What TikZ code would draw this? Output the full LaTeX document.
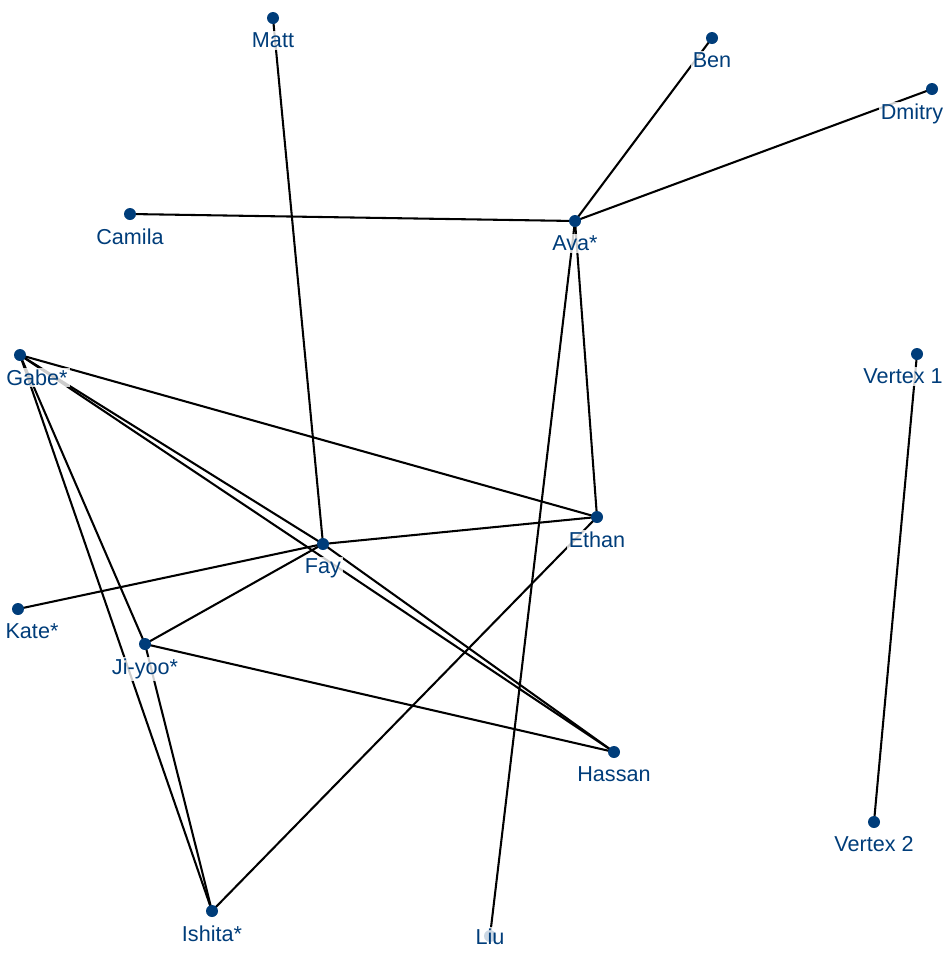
\documentclass[tikz,border=0pt]{standalone}
\usepackage{fontspec}
\setmainfont{Liberation Sans}
\usetikzlibrary{backgrounds}
\definecolor{vertex-blue}{RGB}{0,61,122}

\begin{document}
\begin{tikzpicture}[
    x=0.75pt, y=-0.75pt,
    every node/.style={font=\fontsize{16.2}{18}\selectfont},
    vtx/.style={circle, fill=vertex-blue, inner sep=0pt, minimum size=9pt},
    lbl/.style={text=vertex-blue, fill=white, fill opacity=0.8, text opacity=1,
                inner sep=1.5pt, label distance=4.5pt},
    link/.style={draw, black, line width=1.55pt},
  ]
    \useasboundingbox (0,0) rectangle (950,954);
    % vertices
    \node[vtx, label={[lbl]below:Matt}] (matt) at (273,18) {};
    \node[vtx, label={[lbl]below:Ben}] (ben) at (712,38) {};
    \node[vtx, label={[lbl, xshift=-15pt]below:Dmitry}] (dmitry) at (932,89) {};
    \node[vtx, label={[lbl]below:Camila}] (camila) at (130,214) {};
    \node[vtx, label={[lbl]below:Ava*}] (ava) at (575,221) {};
    \node[vtx, label={[lbl, xshift=12.75pt]below:Gabe*}] (gabe) at (20,355) {};
    \node[vtx, label={[lbl, xshift=-10.5pt]below:Vertex 1}] (v1) at (917,354) {};
    \node[vtx, label={[lbl]below:Ethan}] (ethan) at (597,517) {};
    \node[vtx, label={[lbl]below:Fay}] (fay) at (323,544) {};
    \node[vtx, label={[lbl, xshift=10.5pt]below:Kate*}] (kate) at (18,609) {};
    \node[vtx, label={[lbl]below:Ji-yoo*}] (jiyoo) at (145,644) {};
    \node[vtx, label={[lbl]below:Hassan}] (hassan) at (614,752) {};
    \node[vtx, label={[lbl]below:Vertex 2}] (v2) at (874,822) {};
    \node[vtx, label={[lbl]below:Ishita*}] (ishita) at (212,911) {};
    \node[vtx, label={[lbl, yshift=16.5pt]below:Liu}] (liu) at (490,936) {};
    % edges
    \begin{scope}[on background layer]
      \foreach \a/\b in {matt/fay, ben/ava, dmitry/ava, camila/ava, ava/liu,
          ava/ethan, gabe/ethan, gabe/fay, gabe/hassan, gabe/jiyoo,
          gabe/ishita, fay/ethan, fay/kate, fay/jiyoo, fay/hassan,
          jiyoo/hassan, jiyoo/ishita, ethan/ishita, v1/v2}
        \draw[link] (\a.center) -- (\b.center);
    \end{scope}
  \end{tikzpicture}
\end{document}
